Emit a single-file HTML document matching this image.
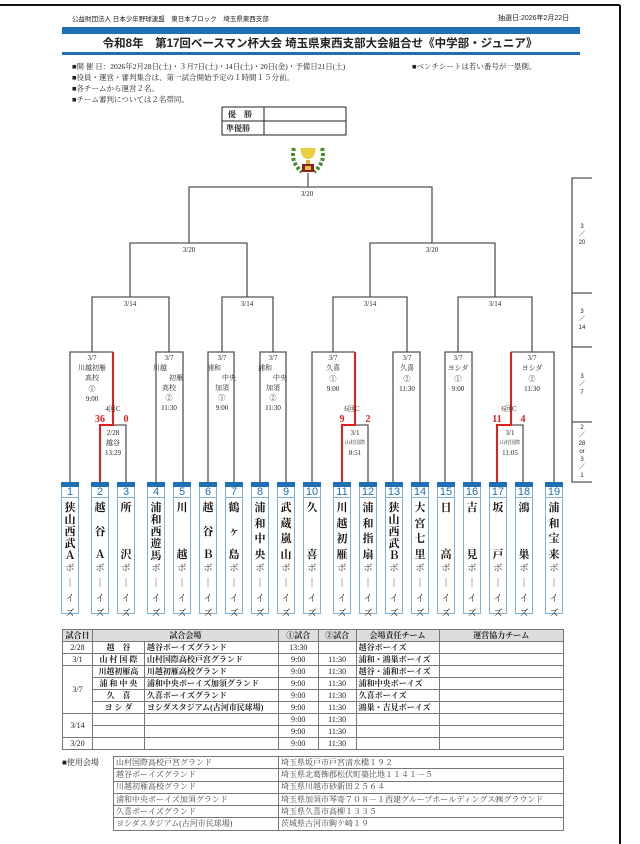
<!DOCTYPE html>
<html><head><meta charset="utf-8"><style>
*{margin:0;padding:0;box-sizing:border-box}
body{width:640px;height:844px;background:#fff;position:relative;overflow:hidden;font-family:"Liberation Serif","Noto Serif CJK SC",serif;color:#222}
.a{position:absolute;white-space:nowrap}
.box{position:absolute;top:482px;width:18px;height:132px;border:1px solid #7fb0d8;border-top:none;background:#fff}
.box .bar{height:5px;background:#1f6fb5;margin:0 -1px}
.box .num{height:11px;border-bottom:1px solid #7fb0d8;color:#1f6fb5;font:11px/11px "Liberation Sans",sans-serif;text-align:center}
.box .nm{height:62px;display:flex;flex-direction:column;justify-content:space-between;align-items:center;padding-top:3px;font:bold 11px/12px "Noto Serif CJK SC",serif;color:#111}
.box .by{display:flex;flex-direction:column;align-items:center;font:9px/15px "Noto Serif CJK SC",serif;color:#222}
table{border-collapse:collapse;position:absolute}
td{border:1px solid #777;font-size:8px;height:12px;padding:0 2px;line-height:10px;white-space:nowrap;overflow:hidden}
.v td{height:12.3px}
</style></head><body>

<svg class="a" style="left:0;top:0" width="640" height="844">
<line x1="0" y1="5" x2="620" y2="5" stroke="#111" stroke-width="2"/>
<line x1="620" y1="5" x2="620" y2="844" stroke="#111" stroke-width="2"/>
<rect x="62" y="27" width="518" height="7" fill="#1f6fb5"/>
<rect x="62" y="52" width="518" height="3" fill="#1f6fb5"/>
<rect x="222" y="107" width="124" height="28" fill="none" stroke="#222"/>
<line x1="222" y1="121" x2="346" y2="121" stroke="#222"/>
<line x1="264" y1="107" x2="264" y2="135" stroke="#222"/>
<g transform="translate(308,158)">
<path d="M-14,-10 Q-18,4 -6,14 M14,-10 Q18,4 6,14" stroke="#4a8a2a" stroke-width="4" fill="none" stroke-dasharray="3 2"/>
<path d="M-8,-10 L8,-10 L6,-2 Q0,4 -6,-2 Z" fill="#e8d040"/>
<rect x="-2" y="2" width="4" height="4" fill="#d8b830"/>
<rect x="-6" y="6" width="12" height="8" fill="#8a2020"/>
<rect x="-3" y="8" width="6" height="4" fill="#e8c040"/>
</g>
<g stroke="#555" stroke-width="1.3" fill="none">
<polyline points="308,173 308,187"/>
<polyline points="189,243 189,187 432,187 432,243"/>
<polyline points="130,297 130,243 247,243 247,297"/>
<polyline points="370,297 370,243 495,243 495,297"/>
<polyline points="92,352 92,297 169,297 169,352"/>
<polyline points="222,352 222,297 273,297 273,352"/>
<polyline points="333,352 333,297 407,297 407,352"/>
<polyline points="458,352 458,297 532,297 532,352"/>
<polyline points="70,482 70,352 113,352"/>
<polyline points="100,425 126,425 126,482"/>
<polyline points="156,482 156,352 183,352 183,482"/>
<polyline points="208,482 208,352 234,352 234,482"/>
<polyline points="260,482 260,352 286,352 286,482"/>
<polyline points="312,482 312,352 355,352"/>
<polyline points="342,425 368,425 368,482"/>
<polyline points="393,482 393,352 420,352 420,482"/>
<polyline points="445,482 445,352 472,352 472,482"/>
<polyline points="511,352 554,352 554,482"/>
<polyline points="497,425 523,425 523,482"/>
<polyline points="592,178 572,178 572,482 592,482"/>
<line x1="572" y1="293" x2="592" y2="293"/><line x1="572" y1="347" x2="592" y2="347"/><line x1="572" y1="422" x2="592" y2="422"/>
</g>
<g stroke="#e02020" stroke-width="2" fill="none">
<polyline points="113,352 113,425 100,425 100,482"/>
<polyline points="355,352 355,425 342,425 342,482"/>
<polyline points="511,352 511,425 497,425 497,482"/>
</g>
<g font-family="Liberation Serif,Noto Serif CJK SC,serif" font-size="7" fill="#222" text-anchor="middle">
<text x="307" y="196">3/20</text><text x="189" y="252">3/20</text><text x="432" y="252">3/20</text>
<text x="130" y="306">3/14</text><text x="247" y="306">3/14</text><text x="370" y="306">3/14</text><text x="495" y="306">3/14</text>
<text x="92" y="360">3/7</text><text x="92" y="370">川越初雁</text><text x="92" y="380">高校</text><text x="92" y="391">①</text><text x="92" y="401">9:00</text>
<text x="113" y="411">4回C</text><text x="113" y="435">2/28</text><text x="113" y="445">越谷</text><text x="113" y="455">13:29</text>
<text x="169" y="360">3/7</text><text x="160" y="370">川越</text><text x="176" y="380">初雁</text><text x="169" y="390">高校</text><text x="169" y="400">②</text><text x="169" y="410">11:30</text>
<text x="222" y="360">3/7</text><text x="214" y="370">浦和</text><text x="229" y="380">中央</text><text x="222" y="390">加須</text><text x="222" y="400">①</text><text x="222" y="410">9:00</text>
<text x="273" y="360">3/7</text><text x="265" y="370">浦和</text><text x="280" y="380">中央</text><text x="273" y="390">加須</text><text x="273" y="400">②</text><text x="273" y="410">11:30</text>
<text x="333" y="360">3/7</text><text x="333" y="370">久喜</text><text x="333" y="381">①</text><text x="333" y="391">9:00</text>
<text x="352" y="411">6回C</text><text x="355" y="435">3/1</text><text x="355" y="444" font-size="5">山村国際</text><text x="355" y="455">8:51</text>
<text x="407" y="360">3/7</text><text x="407" y="370">久喜</text><text x="407" y="381">②</text><text x="407" y="391">11:30</text>
<text x="458" y="360">3/7</text><text x="458" y="370">ヨシダ</text><text x="458" y="381">①</text><text x="458" y="391">9:00</text>
<text x="532" y="360">3/7</text><text x="532" y="370">ヨシダ</text><text x="532" y="381">②</text><text x="532" y="391">11:30</text>
<text x="509" y="411">6回C</text><text x="510" y="435">3/1</text><text x="510" y="444" font-size="5">山村国際</text><text x="510" y="455">11:05</text>
</g>
<g font-family="Liberation Serif,serif" font-size="10" font-weight="bold" fill="#e02020" text-anchor="middle">
<text x="100" y="422">36</text><text x="126" y="422">0</text>
<text x="342" y="422">9</text><text x="368" y="422">2</text>
<text x="497" y="422">11</text><text x="523" y="422">4</text>
</g>
<g font-family="Liberation Sans,sans-serif" font-size="6" fill="#222" text-anchor="middle">
<text x="582" y="228">3</text><text x="582" y="236">／</text><text x="582" y="244">20</text>
<text x="582" y="313">3</text><text x="582" y="321">／</text><text x="582" y="329">14</text>
<text x="582" y="378">3</text><text x="582" y="386">／</text><text x="582" y="394">7</text>
<text x="582" y="429">2</text><text x="582" y="437">／</text><text x="582" y="445">28</text><text x="582" y="453">or</text><text x="582" y="461">3</text><text x="582" y="469">／</text><text x="582" y="477">1</text>
</g>
</svg>

<div class="a" style="left:72px;top:13px;font:6.5px 'Liberation Sans','Noto Sans CJK JP',sans-serif">公益財団法人 日本少年野球連盟　東日本ブロック　埼玉県東西支部</div>
<div class="a" style="left:498px;top:13px;font:7px 'Liberation Sans','Noto Sans CJK JP',sans-serif">抽選日:2026年2月22日</div>
<div class="a" style="left:0;width:640px;text-align:center;top:35px;font:bold 11.5px 'Liberation Sans','Noto Sans CJK JP',sans-serif">令和8年　第17回ベースマン杯大会 埼玉県東西支部大会組合せ《中学部・ジュニア》</div>
<div class="a" style="left:72px;top:61px;font-size:7.5px;line-height:11px">■開 催 日：2026年2月28日(土)・３月7日(土)・14日(土)・20日(金)・予備日21日(土)<br>■役員・運営・審判集合は、第一試合開始予定の１時間１５分前。<br>■各チームから運営２名。<br>■チーム審判については２名帯同。</div>
<div class="a" style="left:412px;top:61px;font-size:7.5px">■ベンチシートは若い番号が一塁側。</div>
<div class="a" style="left:228px;top:109px;font:bold 8px 'Noto Serif CJK SC',serif">優　勝</div>
<div class="a" style="left:226px;top:123px;font:bold 8px 'Noto Serif CJK SC',serif">準優勝</div>

<div class="box" style="left:61px"><div class="bar"></div><div class="num">1</div><div class="nm"><span>狭</span><span>山</span><span>西</span><span>武</span><span>Ａ</span></div><div class="by"><span>ボ</span><span>｜</span><span>イ</span><span>ズ</span></div></div>
<div class="box" style="left:91px"><div class="bar"></div><div class="num">2</div><div class="nm"><span>越</span><span>谷</span><span>Ａ</span></div><div class="by"><span>ボ</span><span>｜</span><span>イ</span><span>ズ</span></div></div>
<div class="box" style="left:117px"><div class="bar"></div><div class="num">3</div><div class="nm"><span>所</span><span>沢</span></div><div class="by"><span>ボ</span><span>｜</span><span>イ</span><span>ズ</span></div></div>
<div class="box" style="left:147px"><div class="bar"></div><div class="num">4</div><div class="nm"><span>浦</span><span>和</span><span>西</span><span>遊</span><span>馬</span></div><div class="by"><span>ボ</span><span>｜</span><span>イ</span><span>ズ</span></div></div>
<div class="box" style="left:173px"><div class="bar"></div><div class="num">5</div><div class="nm"><span>川</span><span>越</span></div><div class="by"><span>ボ</span><span>｜</span><span>イ</span><span>ズ</span></div></div>
<div class="box" style="left:199px"><div class="bar"></div><div class="num">6</div><div class="nm"><span>越</span><span>谷</span><span>Ｂ</span></div><div class="by"><span>ボ</span><span>｜</span><span>イ</span><span>ズ</span></div></div>
<div class="box" style="left:225px"><div class="bar"></div><div class="num">7</div><div class="nm"><span>鶴</span><span>ヶ</span><span>島</span></div><div class="by"><span>ボ</span><span>｜</span><span>イ</span><span>ズ</span></div></div>
<div class="box" style="left:251px"><div class="bar"></div><div class="num">8</div><div class="nm"><span>浦</span><span>和</span><span>中</span><span>央</span></div><div class="by"><span>ボ</span><span>｜</span><span>イ</span><span>ズ</span></div></div>
<div class="box" style="left:277px"><div class="bar"></div><div class="num">9</div><div class="nm"><span>武</span><span>蔵</span><span>嵐</span><span>山</span></div><div class="by"><span>ボ</span><span>｜</span><span>イ</span><span>ズ</span></div></div>
<div class="box" style="left:303px"><div class="bar"></div><div class="num">10</div><div class="nm"><span>久</span><span>喜</span></div><div class="by"><span>ボ</span><span>｜</span><span>イ</span><span>ズ</span></div></div>
<div class="box" style="left:333px"><div class="bar"></div><div class="num">11</div><div class="nm"><span>川</span><span>越</span><span>初</span><span>雁</span></div><div class="by"><span>ボ</span><span>｜</span><span>イ</span><span>ズ</span></div></div>
<div class="box" style="left:359px"><div class="bar"></div><div class="num">12</div><div class="nm"><span>浦</span><span>和</span><span>指</span><span>扇</span></div><div class="by"><span>ボ</span><span>｜</span><span>イ</span><span>ズ</span></div></div>
<div class="box" style="left:385px"><div class="bar"></div><div class="num">13</div><div class="nm"><span>狭</span><span>山</span><span>西</span><span>武</span><span>Ｂ</span></div><div class="by"><span>ボ</span><span>｜</span><span>イ</span><span>ズ</span></div></div>
<div class="box" style="left:411px"><div class="bar"></div><div class="num">14</div><div class="nm"><span>大</span><span>宮</span><span>七</span><span>里</span></div><div class="by"><span>ボ</span><span>｜</span><span>イ</span><span>ズ</span></div></div>
<div class="box" style="left:437px"><div class="bar"></div><div class="num">15</div><div class="nm"><span>日</span><span>高</span></div><div class="by"><span>ボ</span><span>｜</span><span>イ</span><span>ズ</span></div></div>
<div class="box" style="left:463px"><div class="bar"></div><div class="num">16</div><div class="nm"><span>吉</span><span>見</span></div><div class="by"><span>ボ</span><span>｜</span><span>イ</span><span>ズ</span></div></div>
<div class="box" style="left:489px"><div class="bar"></div><div class="num">17</div><div class="nm"><span>坂</span><span>戸</span></div><div class="by"><span>ボ</span><span>｜</span><span>イ</span><span>ズ</span></div></div>
<div class="box" style="left:515px"><div class="bar"></div><div class="num">18</div><div class="nm"><span>鴻</span><span>巣</span></div><div class="by"><span>ボ</span><span>｜</span><span>イ</span><span>ズ</span></div></div>
<div class="box" style="left:545px"><div class="bar"></div><div class="num">19</div><div class="nm"><span>浦</span><span>和</span><span>宝</span><span>来</span></div><div class="by"><span>ボ</span><span>｜</span><span>イ</span><span>ズ</span></div></div>

<table style="left:62px;top:629px;width:502px">
<colgroup><col style="width:30px"><col style="width:52px"><col style="width:134px"><col style="width:40px"><col style="width:38px"><col style="width:83px"><col style="width:125px"></colgroup>
<tr style="background:#ddd;font-weight:bold;text-align:center"><td>試合日</td><td colspan="2">試合会場</td><td>①試合</td><td>②試合</td><td>会場責任チーム</td><td>運営協力チーム</td></tr>
<tr><td align="center">2/28</td><td align="center"><b>越　谷</b></td><td><b>越谷ボーイズグランド</b></td><td align="center">13:30</td><td></td><td><b>越谷ボーイズ</b></td><td></td></tr>
<tr><td align="center">3/1</td><td align="center"><b>山 村 国 際</b></td><td><b>山村国際高校戸宮グランド</b></td><td align="center">9:00</td><td align="center">11:30</td><td><b>浦和・鴻巣ボーイズ</b></td><td></td></tr>
<tr><td rowspan="4" align="center">3/7</td><td align="center"><b>川越初雁高</b></td><td><b>川越初雁高校グランド</b></td><td align="center">9:00</td><td align="center">11:30</td><td><b>越谷・浦和ボーイズ</b></td><td></td></tr>
<tr><td align="center"><b>浦 和 中 央</b></td><td><b>浦和中央ボーイズ加須グランド</b></td><td align="center">9:00</td><td align="center">11:30</td><td><b>浦和中央ボーイズ</b></td><td></td></tr>
<tr><td align="center"><b>久　喜</b></td><td><b>久喜ボーイズグランド</b></td><td align="center">9:00</td><td align="center">11:30</td><td><b>久喜ボーイズ</b></td><td></td></tr>
<tr><td align="center"><b>ヨ シ ダ</b></td><td><b>ヨシダスタジアム(古河市民球場)</b></td><td align="center">9:00</td><td align="center">11:30</td><td><b>鴻巣・吉見ボーイズ</b></td><td></td></tr>
<tr><td rowspan="2" align="center">3/14</td><td></td><td></td><td align="center">9:00</td><td align="center">11:30</td><td></td><td></td></tr>
<tr><td></td><td></td><td align="center">9:00</td><td align="center">11:30</td><td></td><td></td></tr>
<tr><td align="center">3/20</td><td></td><td></td><td align="center">9:00</td><td align="center">11:30</td><td></td><td></td></tr>
</table>

<div class="a" style="left:62px;top:757px;font-size:8px">■使用会場</div>
<table class="v" style="left:113px;top:756px;width:451px;color:#444">
<colgroup><col style="width:165px"><col></colgroup>
<tr><td>山村国際高校戸宮グランド</td><td>埼玉県坂戸市戸宮清水橋１９２</td></tr>
<tr><td>越谷ボーイズグランド</td><td>埼玉県北葛飾郡松伏町築比地１１４１－５</td></tr>
<tr><td>川越初雁高校グランド</td><td>埼玉県川越市砂新田２５６４</td></tr>
<tr><td>浦和中央ボーイズ加須グランド</td><td>埼玉県加須市琴寄７０８－１西建グループホールディングス㈱グラウンド</td></tr>
<tr><td>久喜ボーイズグランド</td><td>埼玉県久喜市高柳１３３５</td></tr>
<tr><td>ヨシダスタジアム(古河市民球場)</td><td>茨城県古河市駒ケ崎１９</td></tr>
</table>
</body></html>
